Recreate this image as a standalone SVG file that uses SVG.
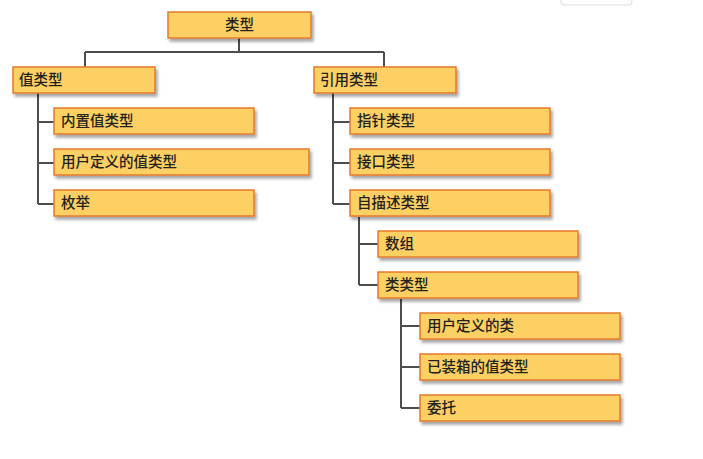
<svg xmlns="http://www.w3.org/2000/svg" width="703" height="459" viewBox="0 0 703 459">
<defs>
<filter id="sh" x="-5%" y="-20%" width="115%" height="160%">
<feGaussianBlur in="SourceAlpha" stdDeviation="1.5"/>
<feOffset dx="2" dy="3" result="b"/>
<feComponentTransfer><feFuncA type="linear" slope="0.35"/></feComponentTransfer>
<feMerge><feMergeNode/><feMergeNode in="SourceGraphic"/></feMerge>
</filter>
</defs>
<style>
.box{fill:#FDD063;stroke:#E37A2C;stroke-width:1.5;filter:url(#sh)}
.t{font-family:"Noto Sans CJK SC","Noto Sans CJK TC",sans-serif;font-size:14.5px;font-weight:500;fill:#222;}
.c{fill:none;stroke:#4d4d4d;stroke-width:2}
</style>
<rect width="703" height="459" fill="#fff"/>
<rect x="561" y="-6" width="71" height="11" rx="3" fill="#fff" stroke="#ddd" stroke-width="1"/>
<g id="connectors">
<path class="c" d="M239 38V52M85 52H384M85 52V67M384 52V67"/>
<path class="c" d="M38 93V204M38 122H54M38 163H54M38 204H54"/>
<path class="c" d="M333 93V204M333 122H350M333 163H350M333 204H350"/>
<path class="c" d="M359 217V285M359 244H378M359 285H378"/>
<path class="c" d="M401 299V408M401 326H420M401 367H420M401 408H420"/>
</g>
<g id="n-root"><rect class="box" x="168" y="12" width="143" height="26"/><text class="t" x="239.5" y="30" text-anchor="middle">类型</text></g>
<g id="n-value"><rect class="box" x="13" y="67" width="142" height="26"/><text class="t" x="19" y="85">值类型</text></g>
<g id="n-builtin"><rect class="box" x="54" y="108" width="200" height="26"/><text class="t" x="61" y="126">内置值类型</text></g>
<g id="n-userval"><rect class="box" x="54" y="149" width="255" height="26"/><text class="t" x="61" y="167">用户定义的值类型</text></g>
<g id="n-enum"><rect class="box" x="54" y="190" width="200" height="26"/><text class="t" x="61" y="208">枚举</text></g>
<g id="n-ref"><rect class="box" x="314" y="67" width="142" height="26"/><text class="t" x="320" y="85">引用类型</text></g>
<g id="n-ptr"><rect class="box" x="350" y="108" width="200" height="26"/><text class="t" x="357" y="126">指针类型</text></g>
<g id="n-iface"><rect class="box" x="350" y="149" width="200" height="26"/><text class="t" x="357" y="167">接口类型</text></g>
<g id="n-selfdesc"><rect class="box" x="350" y="190" width="200" height="26"/><text class="t" x="357" y="208">自描述类型</text></g>
<g id="n-array"><rect class="box" x="378" y="231" width="200" height="26"/><text class="t" x="385" y="249">数组</text></g>
<g id="n-class"><rect class="box" x="378" y="272" width="200" height="26"/><text class="t" x="385" y="290">类类型</text></g>
<g id="n-userclass"><rect class="box" x="420" y="313" width="200" height="26"/><text class="t" x="427" y="331">用户定义的类</text></g>
<g id="n-boxed"><rect class="box" x="420" y="354" width="200" height="26"/><text class="t" x="427" y="372">已装箱的值类型</text></g>
<g id="n-delegate"><rect class="box" x="420" y="395" width="200" height="26"/><text class="t" x="427" y="413">委托</text></g>
</svg>
